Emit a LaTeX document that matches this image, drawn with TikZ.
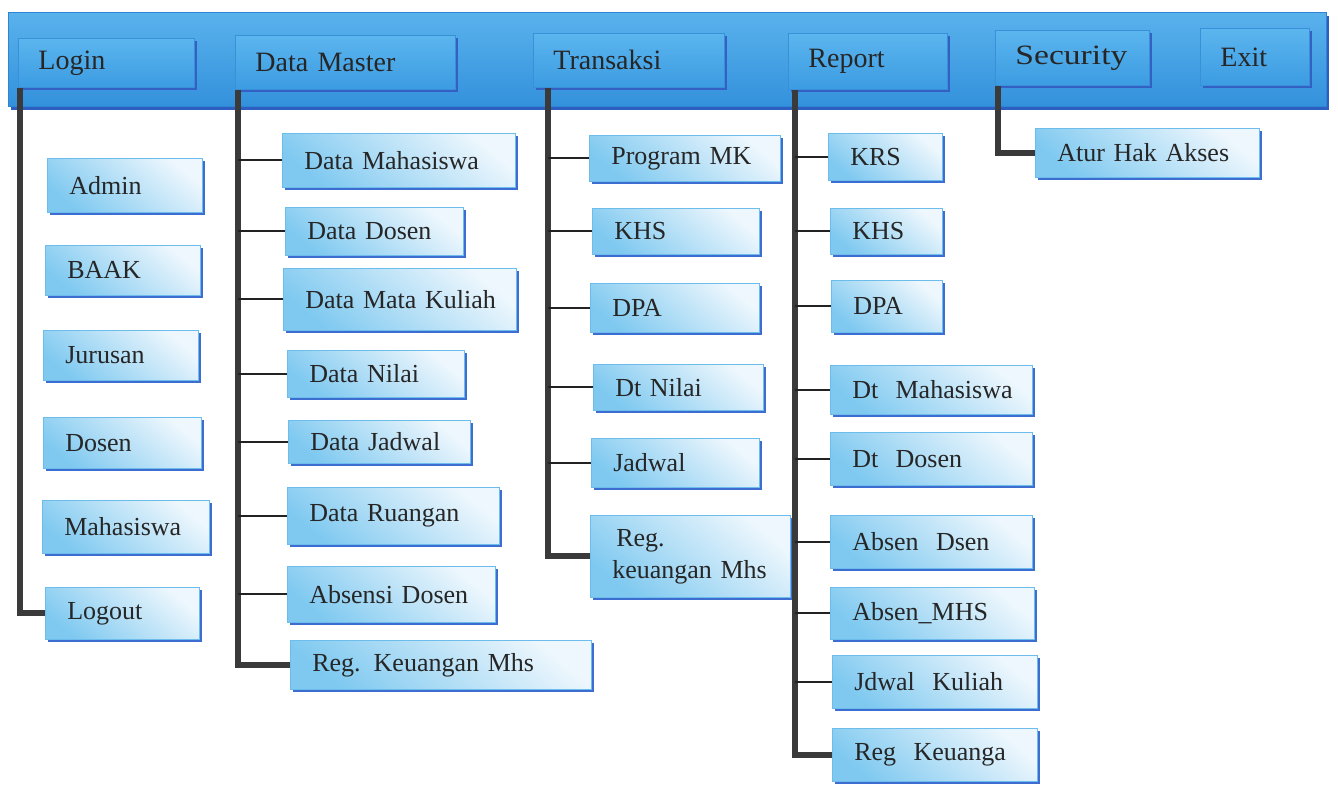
\documentclass[tikz,border=0pt]{standalone}
\usepackage{fontspec}
\setmainfont{Liberation Serif}
\usetikzlibrary{shadows}

\definecolor{barTop}{HTML}{5AB2EC}
\definecolor{barBot}{HTML}{3391DC}
\definecolor{barEdge}{HTML}{2C86D4}
\definecolor{barShadow}{HTML}{2E5EC2}
\definecolor{menuTop}{HTML}{5BB5EE}
\definecolor{menuBot}{HTML}{3C9CE2}
\definecolor{menuEdge}{HTML}{3A90D8}
\definecolor{menuShadow}{HTML}{3460C4}
\definecolor{subLight}{HTML}{EEF7FD}
\definecolor{subDark}{HTML}{7FC9F0}
\definecolor{subEdge}{HTML}{6CBDEC}
\definecolor{subShadow}{HTML}{3D6DD0}
\definecolor{txt}{HTML}{262626}
\definecolor{trunkc}{HTML}{3A3A3A}
\definecolor{twigc}{HTML}{222222}

\begin{document}
\begin{tikzpicture}[x=1pt,y=-1pt,
  menubar/.style={anchor=north west, draw=barEdge, line width=0.8pt,
    top color=barTop, bottom color=barBot,
    drop shadow={shadow xshift=3pt, shadow yshift=-4pt, fill=barShadow, opacity=1},
    inner sep=0pt},
  menu/.style={anchor=north west, draw=menuEdge, line width=0.8pt,
    top color=menuTop, bottom color=menuBot,
    drop shadow={shadow xshift=3pt, shadow yshift=-3pt, fill=menuShadow, opacity=1},
    inner xsep=20pt, inner ysep=0pt, align=left, text=txt,
    font=\fontsize{28}{30}\selectfont},
  sub/.style={anchor=north west, draw=subEdge, line width=0.6pt,
    top color=subLight, bottom color=subDark, shading angle=-40,
    drop shadow={shadow xshift=3pt, shadow yshift=-3pt, fill=subShadow, opacity=1},
    inner xsep=22pt, inner ysep=0pt, align=left, text=txt,
    font=\fontsize{26}{32}\selectfont},
  trunk/.style={draw=trunkc, line width=6pt},
  twig/.style={draw=twigc, line width=1.8pt}]

\useasboundingbox[fill=white] (0,0) rectangle (1338,785);

% menu bar
\node[menubar, minimum width=1318pt, minimum height=94pt] (bar) at (8,12) {};

% top level menus
\node[menu, text width=136pt, minimum height=49pt] (login)    at (18,38)   {Login};
\node[menu, text width=180pt, minimum height=54pt] (dmaster)  at (235,35)  {Data Master};
\node[menu, text width=151pt, minimum height=54pt] (trans)    at (533,33)  {Transaksi};
\node[menu, text width=119pt, minimum height=56pt] (report)   at (788,33)  {Report};
\node[menu, text width=114pt, minimum height=55pt] (security) at (995,30)  {\scalebox{1.2}[1]{Security}};
\node[menu, text width=69pt,  minimum height=57pt] (exit)     at (1200,28) {Exit};

% Login submenu
\node[sub, text width=111pt, minimum height=54pt] (admin)  at (47,158)  {Admin};
\node[sub, text width=111pt, minimum height=50pt] (baak)   at (45,245)  {BAAK};
\node[sub, text width=111pt, minimum height=50pt] (jur)    at (43,330)  {Jurusan};
\node[sub, text width=114pt, minimum height=51pt] (dosen)  at (43,417)  {Dosen};
\node[sub, text width=123pt, minimum height=53pt] (mhs)    at (42,500)  {Mahasiswa};
\node[sub, text width=110pt, minimum height=52pt] (logout) at (45,587)  {Logout};

% Data Master submenu
\node[sub, text width=189pt, minimum height=54pt] (dmhs) at (282,133) {\mbox{Data Mahasiswa}};
\node[sub, text width=134pt, minimum height=48pt] (ddsn) at (285,207) {\mbox{Data Dosen}};
\node[sub, text width=189pt, minimum height=62pt] (dmk)  at (283,268) {\mbox{Data Mata Kuliah}};
\node[sub, text width=133pt, minimum height=47pt] (dnil) at (287,350) {\mbox{Data Nilai}};
\node[sub, text width=138pt, minimum height=43pt] (djad) at (288,420) {\mbox{Data Jadwal}};
\node[sub, text width=168pt, minimum height=57pt] (drua) at (287,487) {\mbox{Data Ruangan}};
\node[sub, text width=164pt, minimum height=56pt] (dabs) at (287,566) {\mbox{Absensi Dosen}};
\node[sub, text width=257pt, minimum height=49pt] (dreg) at (290,640) {\mbox{Reg. Keuangan Mhs}};

% Transaksi submenu
\node[sub, text width=147pt, minimum height=46pt] (tpmk) at (589,135) {\mbox{Program MK}};
\node[sub, text width=123pt, minimum height=46pt] (tkhs) at (592,208) {KHS};
\node[sub, text width=125pt, minimum height=49pt] (tdpa) at (590,283) {DPA};
\node[sub, text width=126pt, minimum height=46pt] (tnil) at (593,364) {\mbox{Dt Nilai}};
\node[sub, text width=124pt, minimum height=49pt] (tjad) at (591,438) {Jadwal};
\node[sub, text width=156pt, minimum height=82pt] (treg) at (590,515) {\hspace*{4pt}Reg.\\\mbox{keuangan Mhs}};

% Report submenu
\node[sub, text width=70pt,  minimum height=47pt] (rkrs) at (828,133) {KRS};
\node[sub, text width=68pt,  minimum height=46pt] (rkhs) at (830,208) {KHS};
\node[sub, text width=67pt,  minimum height=52pt] (rdpa) at (831,280) {DPA};
\node[sub, text width=158pt, minimum height=49pt] (rmhs) at (830,365) {\mbox{Dt\ \ Mahasiswa}};
\node[sub, text width=158pt, minimum height=53pt] (rdsn) at (830,432) {\mbox{Dt\ \ Dosen}};
\node[sub, text width=158pt, minimum height=53pt] (rabd) at (830,515) {\mbox{Absen\ \ Dsen}};
\node[sub, text width=160pt, minimum height=52pt] (rabm) at (830,587) {\mbox{Absen\_MHS}};
\node[sub, text width=161pt, minimum height=53pt] (rjdw) at (832,655) {\mbox{Jdwal\ \ Kuliah}};
\node[sub, text width=161pt, minimum height=53pt] (rreg) at (832,728) {\mbox{Reg\ \ Keuanga}};

% Security submenu
\node[sub, text width=180pt, minimum height=49pt] (akses) at (1035,128) {\mbox{Atur Hak Akses}};

% trunk lines from each menu
\draw[trunk] ([xshift=2pt]login.south west)    |- (logout.west);
\draw[trunk] ([xshift=3pt]dmaster.south west)  |- (dreg.west);
\draw[trunk] ([xshift=15pt]trans.south west)   |- (treg.west);
\draw[trunk] ([xshift=7pt]report.south west)   |- (rreg.west);
\draw[trunk] ([xshift=3pt]security.south west) |- (akses.west);

% trunk x positions
\coordinate (dmx) at ([xshift=3pt]dmaster.south west);
\coordinate (tx)  at ([xshift=15pt]trans.south west);
\coordinate (rx)  at ([xshift=7pt]report.south west);

% branches
\foreach \b in {dmhs,ddsn,dmk,dnil,djad,drua,dabs}
  \draw[twig] (\b.west -| dmx) -- (\b.west);
\foreach \b in {tpmk,tkhs,tdpa,tnil,tjad}
  \draw[twig] (\b.west -| tx) -- (\b.west);
\foreach \b in {rkrs,rkhs,rdpa,rmhs,rdsn,rabd,rabm,rjdw}
  \draw[twig] (\b.west -| rx) -- (\b.west);
\end{tikzpicture}
\end{document}
